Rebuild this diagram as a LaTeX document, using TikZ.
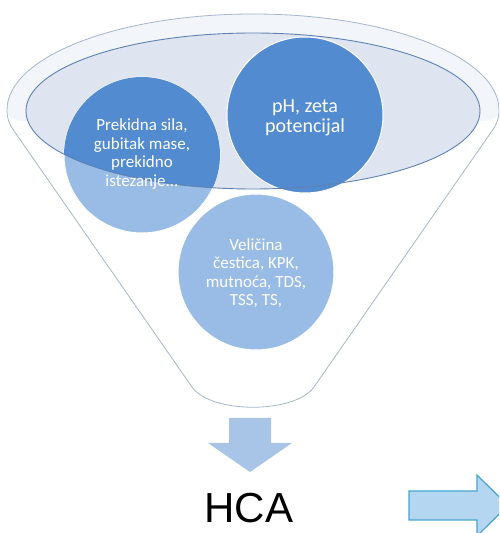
\documentclass[tikz,border=0pt]{standalone}
\usepackage{fontspec}
\setmainfont{Carlito}
\newfontfamily\arialfont{Liberation Sans}
\definecolor{dk}{RGB}{82,139,207}
\definecolor{lt}{RGB}{152,188,229}
\definecolor{innerfill}{RGB}{222,229,240}
\definecolor{innerline}{RGB}{95,130,180}
\definecolor{rimc}{RGB}{165,182,205}
\definecolor{bandc}{RGB}{242,245,249}
\definecolor{downc}{RGB}{168,196,230}
\definecolor{rafill}{RGB}{180,214,240}
\definecolor{radraw}{RGB}{70,165,205}
\begin{document}
\begin{tikzpicture}[x=1pt,y=1pt,
  bubtext/.style={text=white, align=center, font=\fontsize{17}{18.5}\selectfont},
  bigbub/.style={text=white, align=center, font=\fontsize{20}{20}\selectfont},
  bubble/.style={circle, minimum size=156pt, inner sep=0pt, draw=white, line width=1pt},
]
\useasboundingbox (0,0) rectangle (499,533);
\clip (0,0) rectangle (499,533);
% funnel body
\path[fill=white]
  (7,423) arc[start angle=180, end angle=0, x radius=246, y radius=96]
  .. controls (499,415) and (497,410) .. (494,405)
  -- (314,146) .. controls (295,119) and (211,119) .. (192,146)
  -- (12,405) .. controls (9,410) and (7,415) .. (7,423) -- cycle;
% rim band
\fill[bandc] (7,423) arc[start angle=180, end angle=0, x radius=246, y radius=96]
  .. controls (499,418) and (496,412) .. (480,412) -- (26,412) .. controls (10,412) and (7,418) .. (7,423) -- cycle;
\draw[rimc, line width=0.8pt]
  (7,423) arc[start angle=180, end angle=0, x radius=246, y radius=96]
  .. controls (499,415) and (497,410) .. (494,405)
  -- (314,146) .. controls (295,119) and (211,119) .. (192,146)
  -- (12,405) .. controls (9,410) and (7,415) .. (7,423) -- cycle;
% inner ellipse
\fill[innerfill] (253,422) ellipse[x radius=227, y radius=78];
% circles (light)
\node[bubble, fill=lt] (c1) at (142,378) {};
\node[bubble, fill=dk] (c2) at (305,418) {};
\node[bubble, fill=lt] (c3) at (256,261) {};
% dark part inside inner ellipse
\begin{scope}
  \clip (253,422) ellipse[x radius=227, y radius=78];
  \fill[dk] (c1.center) circle[radius=78];
\end{scope}
\draw[innerline, line width=0.9pt] (253,422) ellipse[x radius=227, y radius=78];
% texts
\node[bubtext] (t1) at (142,379) {Prekidna sila,\\gubitak mase,\\prekidno\\istezanje...};
\node[bigbub] (t2) at (305,415) {pH, zeta\\potencijal};
\node[bubtext] (t3) at (256,260) {Veličina\\čestica, KPK,\\mutnoća, TDS,\\TSS, TS,};
% down arrow
\fill[downc] (229,115) -- (271,115) -- (271,90) -- (292,90) -- (250,61) -- (208,90) -- (229,90) -- cycle;
% HCA
\node[font=\arialfont\fontsize{42}{42}\selectfont, inner sep=0pt] (hca) at (249,25) {HCA};
% right arrow
\draw[fill=rafill, draw=radraw, line width=1.2pt] (409,42) -- (477,42) -- (477,58) -- (508,27.5) -- (477,-3) -- (477,13) -- (409,13) -- cycle;
\end{tikzpicture}
\end{document}
